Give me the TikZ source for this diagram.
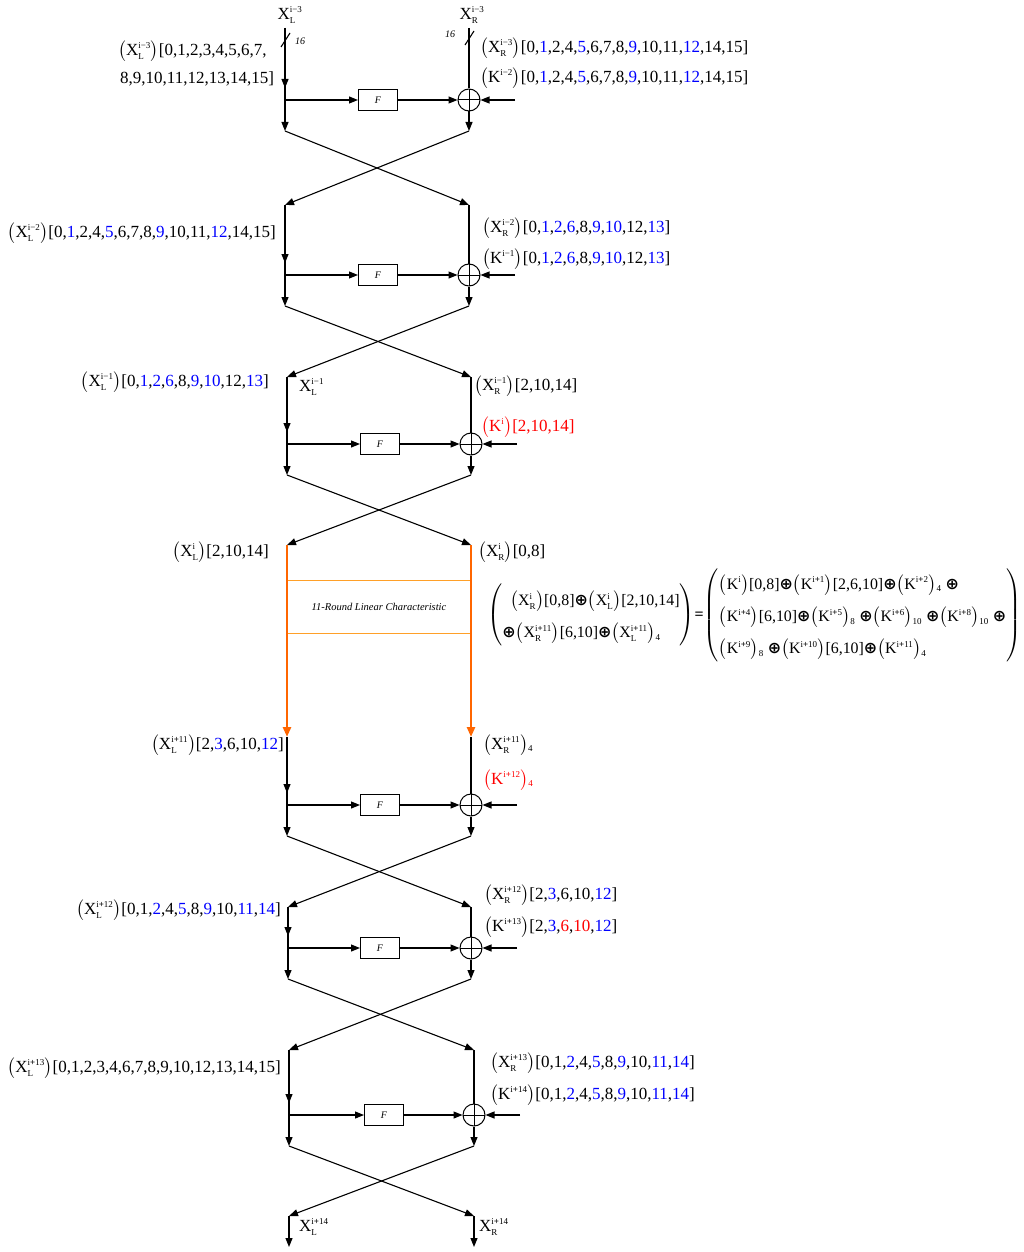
\documentclass[tikz,border=0pt]{standalone}
\usepackage{amsmath}
\usepackage{fontspec}
\setmainfont{Liberation Serif}
\newfontfamily\djv{DejaVu Sans}
\usetikzlibrary{arrows.meta}
\definecolor{bl}{RGB}{0,0,255}
\definecolor{rd}{RGB}{255,0,0}
\definecolor{orL}{RGB}{255,102,0}
\definecolor{orB}{RGB}{255,160,40}
\newcommand{\sps}{\fontsize{9}{9}\selectfont}
\newcommand{\xv}[3]{\ensuremath{\mbox{#1}^{\mbox{\sps #3}}_{\mbox{\sps #2}}}}
\newcommand{\pv}[3]{\ensuremath{\bigl(\xv{#1}{#2}{#3}\bigr)}}
\newcommand{\pk}[1]{\ensuremath{\bigl(\mbox{K}^{\mbox{\sps #1}}\bigr)}}
\newcommand{\sub}[1]{\ensuremath{_{\mbox{\sps #1}}}}
\newcommand{\bb}[1]{{\color{bl}#1}}
\newcommand{\rr}[1]{{\color{rd}#1}}
\newcommand{\xo}{\mbox{\djv\bfseries ⊕}}
\newcommand{\pl}{\textbf{+}}
\tikzset{
  ln/.style={line width=1.1pt},
  arr/.style={ln,-{Triangle[length=9pt,width=7pt]}},
  fbox/.style={draw,line width=1pt,minimum width=39pt,minimum height=21pt,inner sep=0pt,font=\fontsize{10}{10}\selectfont\itshape},
  xorn/.style={draw,circle,line width=1pt,minimum size=22pt,inner sep=0pt,
    path picture={\draw[line width=1pt] (path picture bounding box.north) -- (path picture bounding box.south)
      (path picture bounding box.west) -- (path picture bounding box.east);}},
  lbl/.style={inner sep=0pt,font=\fontsize{17}{20}\selectfont},
  orln/.style={orL,line width=2.6pt,-{Triangle[length=10pt,width=8pt]}}
}
\newcommand{\blk}[7]{%
  \coordinate (L#1t) at (#2,#4);
  \coordinate (R#1t) at (#3,#4);
  \coordinate (L#1b) at (#2,#6);
  \coordinate (R#1b) at (#3,#6);
  \coordinate (B#1) at (#2,#5);
  \coordinate (A#1) at (#2,{#5-12});
  \coordinate (K#1) at ({#3+46},#5);
  \node[fbox] (F#1) at (#7,#5) {F};
  \node[xorn] (X#1) at (#3,#5) {};
  \draw[arr] (L#1t) -- (A#1);
  \draw[arr] (L#1t) -- (L#1b);
  \draw[arr] (B#1) -- (F#1);
  \draw[arr] (F#1) -- (X#1);
  \draw[arr] (K#1) -- (X#1);
  \draw[ln] (R#1t) -- (X#1);
  \draw[arr] (X#1) -- (R#1b);
}
\begin{document}
\begin{tikzpicture}[x=1pt,y=-1pt]
\useasboundingbox (0,0) rectangle (1023,1252);
% blocks
\blk{1}{285}{469}{28}{100}{131}{378}
\blk{2}{285}{469}{205}{275}{306}{378}
\blk{3}{287}{471}{377}{444}{475}{380}
\blk{4}{287}{471}{737}{805}{836}{380}
\blk{5}{288}{471}{907}{948}{979}{380}
\blk{6}{289}{474}{1050}{1115}{1146}{384}
% crosses
\draw[arr] (L1b) -- (R2t);
\draw[arr] (R1b) -- (L2t);
\draw[arr] (L2b) -- (R3t);
\draw[arr] (R2b) -- (L3t);
\coordinate (LOt) at (287,545);
\coordinate (ROt) at (471,545);
\draw[arr] (L3b) -- (ROt);
\draw[arr] (R3b) -- (LOt);
\draw[arr] (L4b) -- (R5t);
\draw[arr] (R4b) -- (L5t);
\draw[arr] (L5b) -- (R6t);
\draw[arr] (R5b) -- (L6t);
\coordinate (L7t) at (289,1216);
\coordinate (R7t) at (474,1216);
\coordinate (L7b) at (289,1247);
\coordinate (R7b) at (474,1247);
\draw[arr] (L6b) -- (R7t);
\draw[arr] (R6b) -- (L7t);
\draw[arr] (L7t) -- (L7b);
\draw[arr] (R7t) -- (R7b);
% orange section
\node[draw=orB,line width=1pt,minimum width=184pt,minimum height=53pt,inner sep=0pt,
  font=\fontsize{10.5}{12}\selectfont\itshape] (OB) at (379,606.5) {11-Round Linear Characteristic};
\draw[orln] (LOt) -- (L4t);
\draw[orln] (ROt) -- (R4t);
% slashes and widths
\draw[ln] (281,47) -- (290,33);
\draw[ln] (465,45) -- (474,31);
\node[lbl,font=\fontsize{10}{10}\selectfont\itshape] (w1) at (300,41) {16};
\node[lbl,font=\fontsize{10}{10}\selectfont\itshape] (w2) at (450,34) {16};
% top labels
\node[lbl] (tL) at (290,15) {\xv{X}{L}{i−3}};
\node[lbl] (tR) at (472,15) {\xv{X}{R}{i−3}};
% block 1 labels
\node[lbl,anchor=west] (l1a) at (118,51) {\pv{X}{L}{i−3}[0,1,2,3,4,5,6,7,};
\node[lbl,anchor=west] (l1b) at (120,79) {8,9,10,11,12,13,14,15]};
\node[lbl,anchor=west] (r1a) at (480,48) {\pv{X}{R}{i−3}[0,\bb{1},2,4,\bb{5},6,7,8,\bb{9},10,11,\bb{12},14,15]};
\node[lbl,anchor=west] (r1b) at (480,78) {\pk{i−2}[0,\bb{1},2,4,\bb{5},6,7,8,\bb{9},10,11,\bb{12},14,15]};
% block 2 labels
\node[lbl,anchor=east] (l2) at (276,233) {\pv{X}{L}{i−2}[0,\bb{1},2,4,\bb{5},6,7,8,\bb{9},10,11,\bb{12},14,15]};
\node[lbl,anchor=west] (r2a) at (482,228) {\pv{X}{R}{i−2}[0,\bb{1},\bb{2},\bb{6},8,\bb{9},\bb{10},12,\bb{13}]};
\node[lbl,anchor=west] (r2b) at (482,259) {\pk{i−1}[0,\bb{1},\bb{2},\bb{6},8,\bb{9},\bb{10},12,\bb{13}]};
% block 3 labels
\node[lbl,anchor=east] (l3) at (269,382) {\pv{X}{L}{i−1}[0,\bb{1},\bb{2},\bb{6},8,\bb{9},\bb{10},12,\bb{13}]};
\node[lbl,anchor=west] (l3b) at (299,387) {\xv{X}{L}{i−1}};
\node[lbl,anchor=west] (r3a) at (474,386) {\pv{X}{R}{i−1}[2,10,14]};
\node[lbl,anchor=west,text=rd] (r3b) at (481,427) {\pk{i}[2,10,14]};
% orange labels
\node[lbl,anchor=east] (lo) at (269,552) {\pv{X}{L}{i}[2,10,14]};
\node[lbl,anchor=west] (ro) at (478,552) {\pv{X}{R}{i}[0,8]};
\node[lbl,anchor=west,font=\fontsize{15.9}{19}\selectfont] (eq) at (487,615) {$\renewcommand{\arraystretch}{1.7}\left(\begin{array}{@{}l@{}}
  \mbox{\hspace{8pt}\pv{X}{R}{i}[0,8]\xo\pv{X}{L}{i}[2,10,14]}\\
  \mbox{\xo\pv{X}{R}{i\pl11}[6,10]\xo\pv{X}{L}{i\pl11}\sub{4}}
  \end{array}\right)\!\mbox{\bfseries =}\!\left(\begin{array}{@{}l@{}}
  \mbox{\pk{i}[0,8]\xo\pk{i\pl1}[2,6,10]\xo\pk{i\pl2}\sub{4} \xo}\\
  \mbox{\pk{i\pl4}[6,10]\xo\pk{i\pl5}\sub{8} \xo\pk{i\pl6}\sub{10} \xo\pk{i\pl8}\sub{10} \xo}\\
  \mbox{\pk{i\pl9}\sub{8} \xo\pk{i\pl10}[6,10]\xo\pk{i\pl11}\sub{4}}
  \end{array}\right)$};
% block 4 labels
\node[lbl,anchor=east] (l4) at (284,745) {\pv{X}{L}{i\pl11}[2,\bb{3},6,10,\bb{12}]};
\node[lbl,anchor=west] (r4a) at (483,745) {\pv{X}{R}{i\pl11}\sub{4}};
\node[lbl,anchor=west,text=rd] (r4b) at (483,780) {\pk{i\pl12}\sub{4}};
% block 5 labels
\node[lbl,anchor=east] (l5) at (281,910) {\pv{X}{L}{i\pl12}[0,1,\bb{2},4,\bb{5},8,\bb{9},10,\bb{11},\bb{14}]};
\node[lbl,anchor=west] (r5a) at (484,895) {\pv{X}{R}{i\pl12}[2,\bb{3},6,10,\bb{12}]};
\node[lbl,anchor=west] (r5b) at (484,927) {\pk{i\pl13}[2,\bb{3},\rr{6},\rr{10},\bb{12}]};
% block 6 labels
\node[lbl,anchor=east] (l6) at (281,1068) {\pv{X}{L}{i\pl13}[0,1,2,3,4,6,7,8,9,10,12,13,14,15]};
\node[lbl,anchor=west] (r6a) at (490,1063) {\pv{X}{R}{i\pl13}[0,1,\bb{2},4,\bb{5},8,\bb{9},10,\bb{11},\bb{14}]};
\node[lbl,anchor=west] (r6b) at (490,1095) {\pk{i\pl14}[0,1,\bb{2},4,\bb{5},8,\bb{9},10,\bb{11},\bb{14}]};
% final labels
\node[lbl,anchor=west] (fL) at (299,1227) {\xv{X}{L}{i\pl14}};
\node[lbl,anchor=west] (fR) at (479,1227) {\xv{X}{R}{i\pl14}};
\end{tikzpicture}
\end{document}
